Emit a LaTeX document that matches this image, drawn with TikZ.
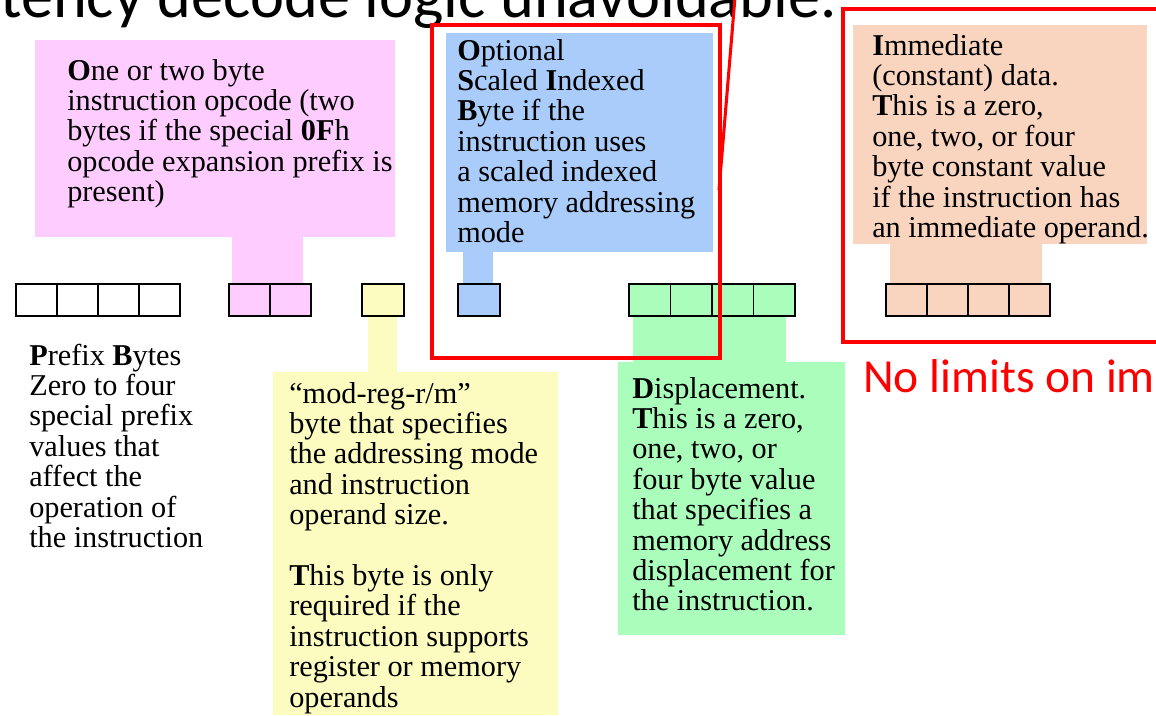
\documentclass[tikz,border=0pt]{standalone}
\usepackage{fontspec}
\setmainfont{Liberation Serif}
\newfontfamily\slidefont{Carlito}

\definecolor{opcpink}{HTML}{FFCCFF}
\definecolor{sibblue}{HTML}{AACCFA}
\definecolor{modyellow}{HTML}{FCFCC0}
\definecolor{dispgreen}{HTML}{AAFDBA}
\definecolor{immpeach}{HTML}{F9D4BF}
\definecolor{markred}{HTML}{FF0000}

% one column of text, broken only where \\ says so
\newcommand\byteNote[1]{\parbox[t]{12cm}{\raggedright #1}}

\begin{document}
\begin{tikzpicture}[x=0.75pt,y=-0.75pt,
  note/.style={inner sep=0pt, anchor=base west,
    font=\fontsize{22.7}{22.8}\selectfont},
  cellline/.style={draw=black, line width=1.4pt},
  frame/.style={draw=markred, line width=2.3pt},
  slide/.style={inner sep=0pt, font=\slidefont\fontsize{48.3}{50}\selectfont}]

\useasboundingbox (0,0) rectangle (1156,715);

% slide title, partly outside the page
\node[slide, anchor=base east] (title) at (837,17) {latency decode logic unavoidable.};

% coloured description panels and their stems
\fill[opcpink]   (35,40) rectangle (395,237);
\fill[opcpink]   (232,237) rectangle (303,284);
\fill[sibblue]   (446,33) rectangle (713,252);
\fill[sibblue]   (463,252) rectangle (493,284);
\fill[modyellow] (273,372) rectangle (558,715);
\fill[modyellow] (368,316) rectangle (397,372);
\fill[dispgreen] (618,362) rectangle (845,635);
\fill[dispgreen] (633,316) rectangle (786,362);
\fill[immpeach]  (853,25) rectangle (1147,244);
\fill[immpeach]  (890,244) rectangle (1042,284);

% instruction byte cells
\foreach \i in {0,...,3}
  \draw[cellline] ({16+41*\i},284) rectangle ({57+41*\i},316);
\foreach \i in {0,1}
  \draw[cellline, fill=opcpink] ({229+41*\i},284) rectangle ({270+41*\i},316);
\draw[cellline, fill=modyellow] (362,284) rectangle (404,316);
\draw[cellline, fill=sibblue] (458,284) rectangle (500,316);
\foreach \i in {0,...,3}
  \draw[cellline, fill=dispgreen] ({629+41.5*\i},284) rectangle ({670.5+41.5*\i},316);
\foreach \i in {0,...,3}
  \draw[cellline, fill=immpeach] ({886+41*\i},284) rectangle ({927+41*\i},316);

% descriptions
\node[note] (opc) at (67,80) {\byteNote{\textbf{O}ne or two byte\\
  instruction opcode (two\\
  bytes if the special \textbf{0F}h\\
  opcode expansion prefix is\\
  present)}};

\node[note] (pfx) at (29,365) {\byteNote{\textbf{P}refix \textbf{B}ytes\\
  Zero to four\\
  special prefix\\
  values that\\
  affect the\\
  operation of\\
  the instruction}};

\node[note] (sib) at (457,60) {\byteNote{\textbf{O}ptional\\
  \textbf{S}caled \textbf{I}ndexed\\
  \textbf{B}yte if the\\
  instruction uses\\
  a scaled indexed\\
  memory addressing\\
  mode}};

\node[note] (modrm) at (289,403) {\byteNote{``mod-reg-r/m''\\
  byte that specifies\\
  the addressing mode\\
  and instruction\\
  operand size.\\[22.8pt]
  \textbf{T}his byte is only\\
  required if the\\
  instruction supports\\
  register or memory\\
  operands}};

\node[note] (disp) at (632,398) {\byteNote{\textbf{D}isplacement.\\
  \textbf{T}his is a zero,\\
  one, two, or\\
  four byte value\\
  that specifies a\\
  memory address\\
  displacement for\\
  the instruction.}};

\node[note] (imm) at (872,55) {\byteNote{\textbf{I}mmediate\\
  (constant) data.\\
  \textbf{T}his is a zero,\\
  one, two, or four\\
  byte constant value\\
  if the instruction has\\
  an immediate operand.}};

% red highlight frames and the callout line
\draw[frame] (432,25) rectangle (720,358);
\draw[frame] (843,9) rectangle (1175,342);
\coordinate (calloutTop) at (735,-3);
\coordinate (calloutEnd) at (719,190);
\draw[markred, line width=2.3pt] (calloutTop) -- (calloutEnd);

\node[inner sep=0pt, anchor=base west, text=markred,
  font=\slidefont\fontsize{35.6}{40}\selectfont] (limits) at (863,392) {No limits on im};

\end{tikzpicture}
\end{document}
